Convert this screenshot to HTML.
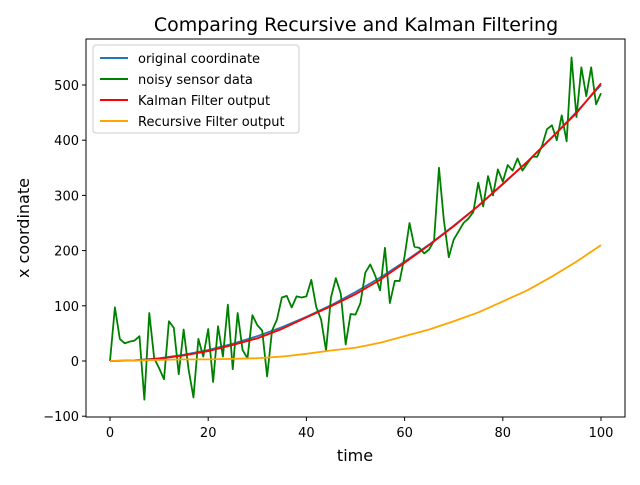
<!DOCTYPE html>
<html><head><meta charset="utf-8"><style>
body{margin:0;background:#fff;font-family:"Liberation Sans","DejaVu Sans",sans-serif}
svg text{font-family:"DejaVu Sans","Liberation Sans",sans-serif}
</style></head><body>
<svg id="chart" width="640" height="480" viewBox="0 0 640 480">
<rect width="640" height="480" fill="#fff"/>
<text x="356" y="31" font-size="19" text-anchor="middle">Comparing Recursive and Kalman Filtering</text>
<g id="plot"></g>
<rect x="86" y="39" width="539" height="378" fill="none" stroke="#000" stroke-width="1"/>
<text x="355" y="461" font-size="16" text-anchor="middle">time</text>
<text transform="translate(29,228) rotate(-90)" font-size="16" text-anchor="middle">x coordinate</text>
<g>
<rect x="93" y="45" width="206" height="88" rx="3" fill="#fff" fill-opacity="0.8" stroke="#ccc"/>
<g><line x1="100" y1="58" x2="128" y2="58" stroke="#1f77b4" stroke-width="2"/><text x="138" y="63" font-size="13">original coordinate</text></g>
<g><line x1="100" y1="79" x2="128" y2="79" stroke="green" stroke-width="2"/><text x="138" y="84" font-size="13">noisy sensor data</text></g>
<g><line x1="100" y1="100" x2="128" y2="100" stroke="red" stroke-width="2"/><text x="138" y="105" font-size="13">Kalman Filter output</text></g>
<g><line x1="100" y1="121" x2="128" y2="121" stroke="orange" stroke-width="2"/><text x="138" y="126" font-size="13">Recursive Filter output</text></g>
</g>
</svg>
<script>
const xTicks=[0,20,40,60,80,100];
const yTicks=[-100,0,100,200,300,400,500];
const noisy=[0,97,40,32,35,37,45,-70,87,5,-13,-33,72,60,-24,57,-15,-66,40,8,58,-38,63,8,102,-15,87,20,5,83,65,55,-28,55,75,115,118,97,117,115,117,147,98,75,19,115,150,122,30,85,84,105,160,175,155,128,205,105,145,145,190,250,207,205,195,202,218,350,255,188,220,235,250,258,270,323,280,335,300,347,325,355,345,367,345,358,370,370,390,420,427,400,445,398,550,442,532,480,532,465,485];
const coarseT=[0,5,10,15,20,25,30,35,40,45,50,55,60,65,70,75,80,85,90,95,100];
const original=[0,1.25,5,11.25,20,31.25,45,61.25,80,101,125,151,180,211,245,281,320,361,405,451,500];
const kalman=[0,1,4,10,18,29,41,58,79,99,121,147,178,210,244,281,321,361,405,449,503];
const recursive=[0,1,2,3,3,4,5,8,13,19,24,33,45,57,72,88,108,128,153,180,210];
const X=v=>110+v*4.91, Y=v=>361-v*0.552;
const NS='http://www.w3.org/2000/svg';
const plot=document.getElementById('plot');
function mk(tag,attrs){const e=document.createElementNS(NS,tag);for(const k in attrs)e.setAttribute(k,attrs[k]);plot.appendChild(e);return e;}
xTicks.forEach(t=>{
  const l=mk('line',{x1:X(t),x2:X(t),y1:417,y2:421,stroke:'#000'});
  
  
  const tx=mk('text',{x:X(t),y:437,'font-size':13,'text-anchor':'middle'});tx.textContent=t;
  
  
});
yTicks.forEach(t=>{
  const l=mk('line',{x1:82,x2:86,y1:Y(t),y2:Y(t),stroke:'#000'});
  
  
  const tx=mk('text',{x:79,y:Y(t)+5,'font-size':13,'text-anchor':'end'});tx.textContent=(t<0?'\u2212'+(-t):t);
  
  
});
function line(ts,vs,color,name){
  const p=mk('polyline',{points:vs.map((v,i)=>X(ts[i])+','+Y(v)).join(' '),fill:'none',stroke:color,'stroke-width':1.8,'stroke-linejoin':'round'});
  
  
}
line(coarseT,original,'#1f77b4','original-coordinate-line');
line(noisy.map((_,i)=>i),noisy,'green','noisy-sensor-line');
line(coarseT,kalman,'red','kalman-output-line');
line(coarseT,recursive,'orange','recursive-output-line');
</script>
</body></html>
